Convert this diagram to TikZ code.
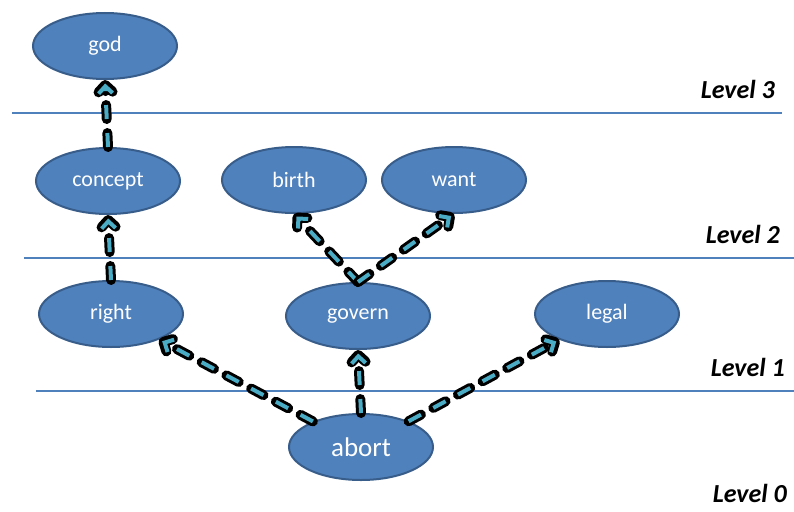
\documentclass[tikz,border=0pt]{standalone}
\usepackage{fontspec}
\setmainfont{Carlito}
\usetikzlibrary{arrows.meta,shapes.geometric}

\definecolor{nodefill}{HTML}{4F81BD}
\definecolor{nodeedge}{HTML}{385D8A}
\definecolor{linkcyan}{HTML}{4BACC6}
\definecolor{levelline}{HTML}{4F81BD}

\tikzset{
  concept node/.style={ellipse, fill=nodefill, draw=nodeedge, line width=2pt,
    minimum width=144pt, minimum height=66pt, inner sep=0pt,
    text=white, font=\fontsize{22pt}{24pt}\selectfont},
  link/.style={draw=linkcyan, line width=4pt, dash pattern=on 14pt off 14pt,
    shorten >=3.5pt,
    -{Straight Barb[length=7pt 0, width=14pt 0]},
    preaction={draw=black, line width=10pt, line cap=round, line join=round,
      dash pattern=on 14pt off 14pt, shorten >=0pt,
      -{Straight Barb[length=7pt 0, width=14pt 0, round]}}},
  level rule/.style={draw=levelline, line width=1.3pt},
  level label/.style={anchor=base east, inner sep=0pt,
    font=\fontsize{26pt}{28pt}\selectfont\bfseries\itshape}
}

\begin{document}
\begin{tikzpicture}[x=1pt, y=-1pt]
  \useasboundingbox (0,0) rectangle (794,511);

  % level separators
  \coordinate (r3a) at (12,113);  \coordinate (r3b) at (782,113);
  \coordinate (r2a) at (24,258);  \coordinate (r2b) at (794,258);
  \coordinate (r1a) at (36,391);  \coordinate (r1b) at (794,391);
  \draw[level rule] (r3a) -- (r3b);
  \draw[level rule] (r2a) -- (r2b);
  \draw[level rule] (r1a) -- (r1b);

  \node[level label] (l3) at (775,98) {Level 3};
  \node[level label] (l2) at (780,243) {Level 2};
  \node[level label] (l1) at (785,376) {Level 1};
  \node[level label] (l0) at (787,502) {Level 0};

  % concepts
  \node[concept node] (god)     at (105,46)  {god};
  \node[concept node] (concept) at (108,181) {concept};
  \node[concept node] (birth)   at (294,180) {birth};
  \node[concept node] (want)    at (454,180) {want};
  \node[concept node] (right)   at (111,314) {right};
  \node[concept node] (govern)  at (358,316) {govern};
  \node[concept node] (legal)   at (607,314) {legal};
  \node[concept node, font=\fontsize{27pt}{29pt}\selectfont] (abort) at (361,447) {abort};

  % links
  \draw[link] (abort) -- (right);
  \draw[link] (abort.north) -- (govern.south);
  \draw[link] (abort) -- (legal);
  \draw[link] (govern.north) -- (birth.south);
  \draw[link] (govern.north) -- (want.south);
  \draw[link] (right.north) -- (concept.south);
  \draw[link] (concept.north) -- (god.south);
\end{tikzpicture}
\end{document}
